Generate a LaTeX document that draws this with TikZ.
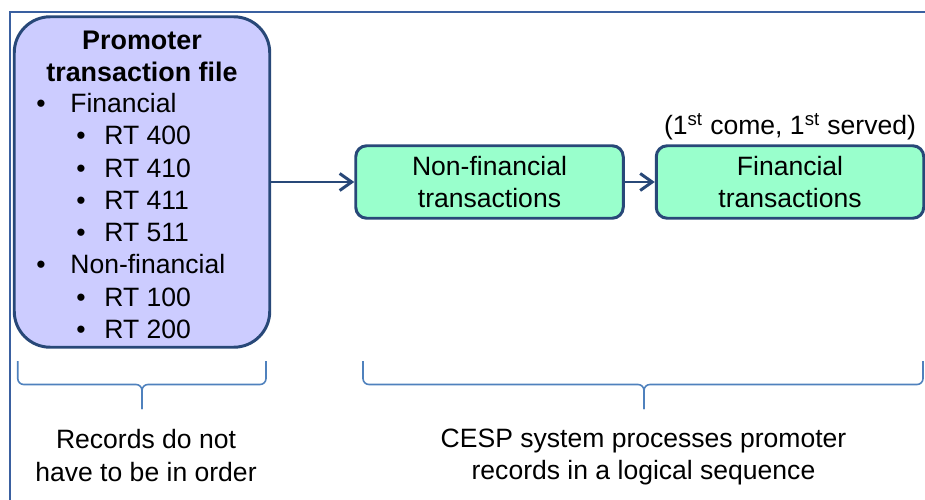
\documentclass[tikz,border=0pt]{standalone}
\usepackage{fontspec}
\setmainfont{Liberation Sans}
\usetikzlibrary{positioning,arrows.meta}
\definecolor{framecol}{RGB}{58,96,160}
\definecolor{edgecol}{RGB}{40,72,120}
\definecolor{filecol}{RGB}{204,204,255}
\definecolor{stepcol}{RGB}{153,255,204}
\definecolor{bracecol}{RGB}{79,129,189}
\tikzset{txt/.style={font=\fontsize{15.1}{18.3}\selectfont, inner sep=0pt, align=center},
         filebox/.style={draw=edgecol, line width=1.7pt, fill=filecol,
         rounded corners=0.72cm, minimum width=5.11cm, minimum height=6.61cm},
         stepbox/.style={txt, draw=edgecol, line width=1.7pt, fill=stepcol,
         rounded corners=0.22cm, minimum width=5.35cm, minimum height=1.45cm},
         flow/.style={draw=edgecol, line width=1.7pt,
         -{Straight Barb[length=0.24cm,width=0.34cm]}},
         curly/.style={draw=bracecol, line width=0.9pt, rounded corners=0.12cm}}

\begin{document}
\begin{tikzpicture}
\clip (0,0) rectangle (18.5,9.98);
\draw [framecol, line width=1.3pt] (0.206,-1) -- (0.206,9.734) -- (19.5,9.734);

\node [filebox] (file) at (2.84,6.34) {};
\node [txt, font=\fontsize{15.3}{18.3}\selectfont\bfseries] (title) at (2.84,8.86) {Promoter\\transaction file};
\foreach \bx/\tx/\t [count=\i] in {0.82/1.40/Financial, 1.62/2.08/RT 400, 1.62/2.08/RT 410,
  1.62/2.08/RT 411, 1.62/2.08/RT 511, 0.82/1.40/Non-financial, 1.62/2.08/RT 100, 1.62/2.08/RT 200}
{
  \node [txt, anchor=base] (dot\i) at (\bx,8.375-0.645*\i) {\textbullet};
  \node [txt, anchor=base west] (item\i) at (\tx,8.375-0.645*\i) {\t};
}

\node [stepbox] (nonfin) at (9.79,6.34) {Non-financial\\transactions};
\node [stepbox] (fin) at (15.8,6.34) {Financial\\transactions};
\node [txt, anchor=base] (fcfs) at (15.8,7.29) {(1\textsuperscript{st} come, 1\textsuperscript{st} served)};

\draw [flow] (file) -- (nonfin);
\draw [flow] (nonfin) -- (fin);

\draw [curly] (0.355,2.76) |- (2.84,2.29) -- (2.84,1.8);
\draw [curly] (5.32,2.76) |- (2.84,2.29) -- (2.84,1.8);
\draw [curly] (7.26,2.76) |- (12.88,2.29) -- (12.88,1.8);
\draw [curly] (18.46,2.76) |- (12.88,2.29) -- (12.88,1.8);

\node [txt] (order) at (2.92,0.87) {Records do not\\have to be in order};
\node [txt] (logic) at (12.87,0.84) {CESP system processes promoter\\records in a logical sequence};
\end{tikzpicture}
\end{document}
